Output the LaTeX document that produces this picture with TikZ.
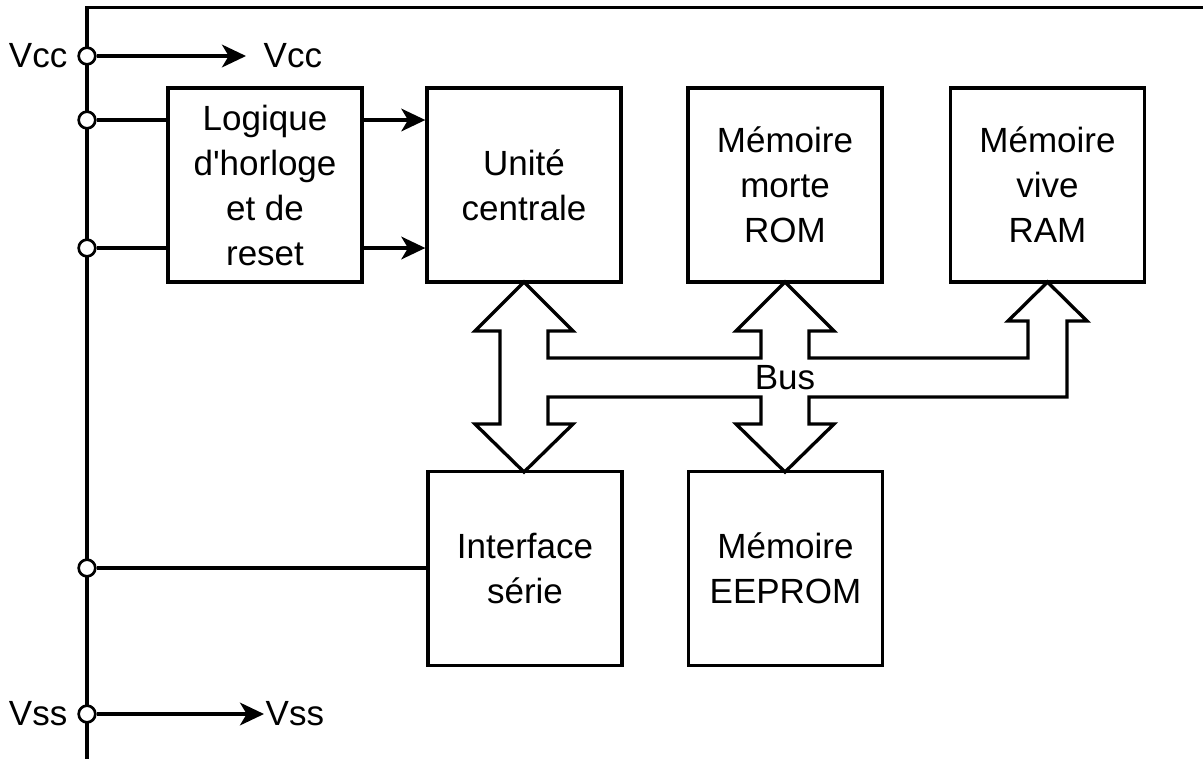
\documentclass[tikz,border=0pt]{standalone}
\usepackage{fontspec}
\setmainfont{Liberation Sans}[Ligatures=TeXOff]
\usetikzlibrary{arrows.meta}
\begin{document}
\begin{tikzpicture}[x=0.75pt,y=-0.75pt, line width=2.5pt,
 blk/.style={draw, minimum width=145.5pt, minimum height=145.5pt, inner sep=0pt, align=center, font=\fontsize{26.25pt}{33.75pt}\selectfont},
 lbl/.style={inner sep=0pt, font=\fontsize{26.25pt}{33.75pt}\selectfont},
 pin/.style={circle, draw, fill=white, minimum size=12.5pt, inner sep=0pt, line width=2pt},
 arr/.style={-{Stealth[length=18pt,width=17pt,inset=5pt]}}]
\useasboundingbox (0,0) rectangle (1203,758);
% rails
\draw (1203,7.5) -- (87,7.5) -- (87,760);
% pins
\node[pin] (c1) at (87,56) {};
\node[pin] (c2) at (87,120) {};
\node[pin] (c3) at (87,248) {};
\node[pin] (c4) at (87,568) {};
\node[pin] (c5) at (87,714) {};
% blocks
\node[blk] (logic) at (265,185) {Logique\\d'horloge\\et de\\reset};
\node[blk] (cpu) at (524,185) {Unité\\centrale};
\node[blk] (rom) at (785,185) {Mémoire\\morte\\ROM};
\node[blk] (ram) at (1047.5,185) {Mémoire\\vive\\RAM};
\node[blk] (ser) at (525,568.5) {Interface\\série};
\node[blk] (eep) at (785.5,568.5) {Mémoire\\EEPROM};
% labels
\node[lbl, anchor=east] (vccL) at (69,56) {Vcc};
\node[lbl, anchor=west] (vccR) at (262,56) {Vcc};
\node[lbl, anchor=east] (vssL) at (69,714) {Vss};
\node[lbl, anchor=west] (vssR) at (264,714) {Vss};
\node[lbl] (bus) at (785,378) {Bus};
% connectors
\draw[arr] (c1) -- ([xshift=-12pt]vccR.west);
\draw[arr] (c5) -- (vssR.west);
\draw (c2) -- (c2 -| logic.west);
\draw (c3) -- (c3 -| logic.west);
\draw (c4) -- (c4 -| ser.west);
\draw[arr] (c2 -| logic.east) -- (c2 -| cpu.west);
\draw[arr] (c3 -| logic.east) -- (c3 -| cpu.west);
% bus outline
\draw[line join=miter] (524,282) -- (573,331) -- (548,331) -- (548,358) -- (761,358) -- (761,331) -- (736,331)
 -- (785,282) -- (834,331) -- (809,331) -- (809,358) -- (1028,358) -- (1028,321) -- (1008,321)
 -- (1047.5,282) -- (1087,321) -- (1067,321) -- (1067,397) -- (809,397) -- (809,424) -- (834,424)
 -- (785,472) -- (736,424) -- (761,424) -- (761,397) -- (548,397) -- (548,424) -- (573,424)
 -- (524,472) -- (475,424) -- (500,424) -- (500,331) -- (475,331) -- cycle;
\end{tikzpicture}
\end{document}
